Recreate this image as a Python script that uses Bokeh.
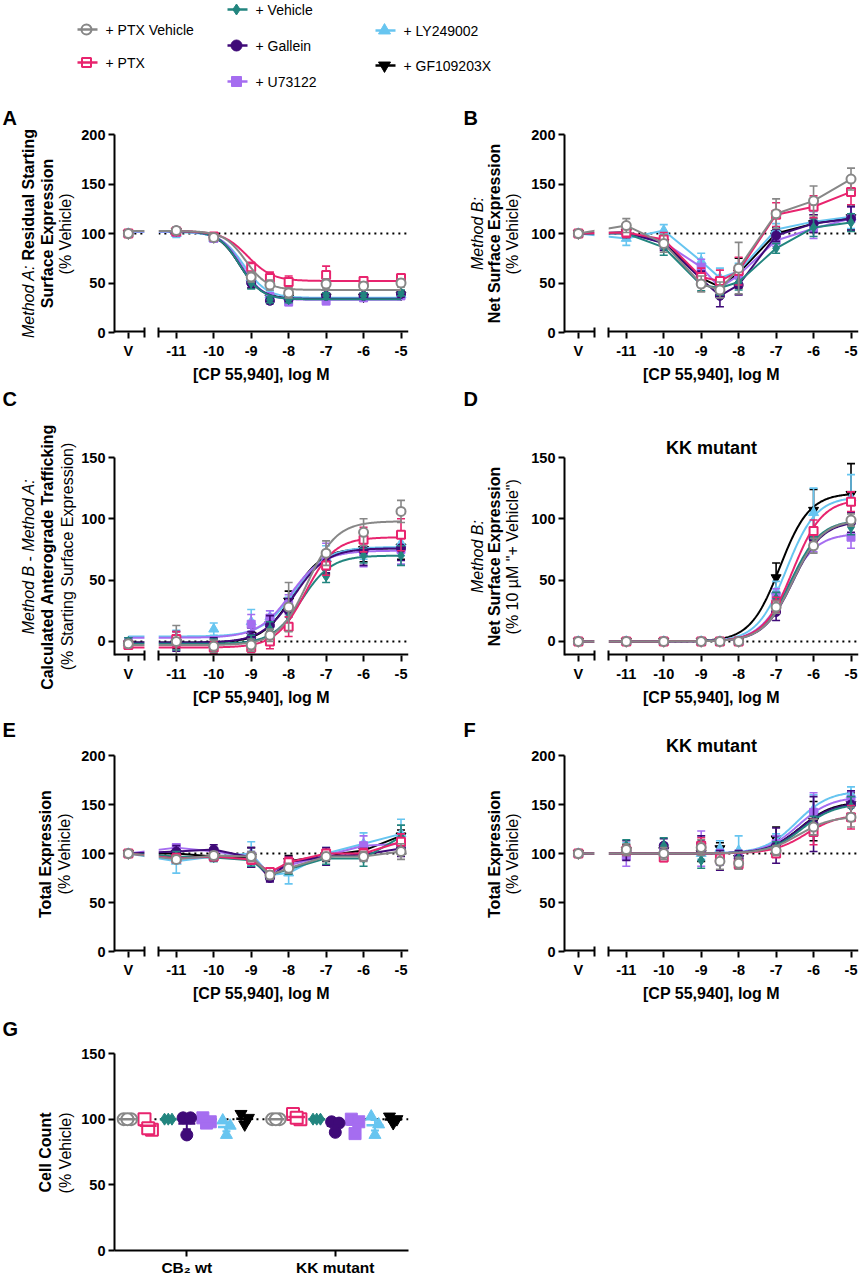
import numpy as np
from bokeh.plotting import figure
from bokeh.layouts import column, row
from bokeh.models import Range1d, FixedTicker
from bokeh.core.properties import value
from bokeh.embed import file_html
from bokeh.resources import INLINE

FONT = "Liberation Sans"

# ---------------- data ----------------
series_names = ["+ PTX Vehicle", "+ PTX", "+ Vehicle", "+ Gallein", "+ U73122", "+ LY249002", "+ GF109203X"]
series_colors = ["#878787", "#E8246E", "#22857F", "#3F0A78", "#A56DF0", "#67C5F0", "#000000"]
series_markers = ["circle", "square", "diamond", "circle", "square", "triangle", "inverted_triangle"]
series_hollow = [True, True, False, False, False, False, False]

log_conc = [-11, -10, -9, -8.5, -8, -7, -6, -5]
x_tick_values = [-11.0, -10.0, -9.0, -8.0, -7.0, -6.0, -5.0]
x_tick_labels = ["V", "-11", "-10", "-9", "-8", "-7", "-6", "-5"]

# values at [V, -11, -10, -9, -8.5, -8, -7, -6, -5], series in legend order
a_values = [
    [100, 103, 96, 56, 48, 40, 49, 47, 50],
    [100, 102, 97, 66, 55, 51, 58, 52, 55],
    [100, 102, 96, 50, 33, 33, 37, 37, 40],
    [100, 103, 96, 50, 32, 34, 37, 37, 39],
    [100, 101, 95, 52, 36, 31, 32, 35, 37],
    [100, 100, 95, 55, 38, 36, 36, 36, 38],
    [100, 102, 96, 50, 35, 35, 36, 36, 38],
]
a_errors = [
    [2, 3, 3, 5, 5, 5, 5, 4, 4],
    [2, 3, 3, 5, 6, 6, 9, 4, 4],
    [2, 2, 3, 6, 3, 3, 3, 3, 3],
    [2, 3, 3, 5, 3, 3, 3, 3, 3],
    [2, 3, 3, 5, 4, 4, 4, 3, 3],
    [2, 4, 3, 6, 4, 4, 3, 3, 3],
    [2, 3, 3, 5, 3, 3, 3, 3, 3],
]
# fit parameters: [start, end, logEC50, hill]
a_fits = [
    [102.5, 43, -9.15, 1.5],
    [102.5, 52, -9.1, 1.3],
    [102.5, 33.5, -9.3, 1.5],
    [102.5, 34, -9.3, 1.5],
    [102, 33, -9.25, 1.5],
    [101.5, 35, -9.2, 1.4],
    [102, 34, -9.3, 1.5],
]

b_values = [
    [100, 108, 90, 49, 43, 65, 120, 133, 155],
    [100, 101, 94, 56, 52, 62, 119, 127, 142],
    [100, 100, 86, 48, 45, 51, 85, 106, 111],
    [100, 101, 90, 54, 37, 48, 98, 110, 115],
    [100, 100, 91, 66, 45, 58, 93, 105, 115],
    [100, 95, 103, 72, 55, 62, 104, 112, 117],
    [100, 101, 91, 55, 46, 60, 100, 110, 116],
]
b_errors = [
    [1, 7, 9, 8, 8, 26, 15, 15, 11],
    [1, 5, 7, 9, 11, 14, 12, 11, 13],
    [1, 4, 8, 6, 7, 8, 5, 9, 9],
    [1, 5, 7, 8, 11, 10, 6, 9, 12],
    [1, 4, 6, 8, 8, 8, 6, 10, 12],
    [1, 7, 6, 8, 10, 8, 6, 10, 12],
    [1, 5, 6, 8, 8, 15, 6, 9, 12],
]

c_values = [
    [-2, 0, -4, -3, 5, 28, 72, 89, 106],
    [-3, 2, -5, -5, 0, 12, 62, 83, 87],
    [0, -2, -3, 0, 10, 20, 53, 70, 70],
    [-1, 0, -2, 3, 13, 25, 64, 74, 76],
    [-2, -1, -3, 14, 19, 30, 70, 73, 75],
    [-1, 3, 10, 16, 20, 28, 68, 77, 80],
    [-2, -1, -3, 5, 14, 33, 63, 75, 77],
]
c_errors = [
    [3, 13, 5, 5, 5, 20, 10, 11, 9],
    [3, 6, 5, 4, 6, 8, 8, 10, 13],
    [3, 5, 5, 5, 6, 8, 5, 6, 8],
    [4, 8, 5, 5, 8, 10, 8, 12, 10],
    [3, 6, 5, 8, 6, 8, 10, 12, 12],
    [4, 6, 5, 10, 5, 8, 10, 10, 10],
    [3, 5, 5, 6, 6, 8, 8, 10, 10],
]
c_fits = [
    [-3, 98, -7.5, 1.1],
    [-5, 85, -7.55, 1.1],
    [-2, 70, -7.65, 1.1],
    [-1, 76, -7.85, 1.0],
    [3, 74, -7.95, 1.0],
    [4, 77, -7.85, 1.0],
    [-1, 76, -7.9, 1.1],
]

d_values = [
    [0, 0, 0, 0, 0, 0, 28, 78, 99],
    [0, 0, 0, 0, 0, 0, 30, 90, 114],
    [0, 0, 0, 0, 0, 0, 35, 85, 93],
    [0, 0, 0, 0, 0, 0, 24, 84, 97],
    [0, 0, 0, 0, 0, 0, 37, 80, 85],
    [0, 0, 0, 0, 0, 0, 41, 105, 117],
    [0, 0, 0, 0, 0, 0, 52, 107, 120],
]
d_errors = [
    [1, 1, 1, 1, 1, 1, 5, 6, 5],
    [1, 1, 1, 1, 1, 1, 6, 9, 8],
    [1, 1, 1, 1, 1, 1, 5, 8, 6],
    [1, 1, 1, 1, 1, 1, 7, 8, 8],
    [1, 1, 1, 1, 1, 1, 6, 7, 9],
    [1, 1, 1, 1, 1, 1, 8, 20, 19],
    [1, 1, 1, 1, 1, 1, 12, 17, 25],
]
d_fits = [
    [0, 99, -6.55, 1.1],
    [0, 116, -6.55, 1.1],
    [0, 99, -6.6, 1.1],
    [0, 98, -6.55, 1.1],
    [0, 88, -6.7, 1.1],
    [0, 118, -6.72, 1.1],
    [0, 121, -6.9, 1.1],
]

e_values = [
    [100, 94, 98, 97, 78, 85, 97, 97, 102],
    [100, 95, 97, 94, 81, 91, 100, 100, 112],
    [100, 97, 96, 93, 78, 84, 95, 95, 117],
    [100, 102, 104, 96, 75, 91, 97, 99, 105],
    [100, 106, 102, 97, 79, 88, 98, 108, 110],
    [100, 92, 97, 100, 78, 80, 100, 110, 120],
    [100, 100, 97, 96, 77, 92, 98, 103, 118],
]
e_errors = [
    [1, 4, 4, 5, 4, 5, 4, 5, 8],
    [1, 5, 4, 5, 3, 5, 4, 5, 8],
    [1, 5, 4, 6, 4, 5, 6, 8, 12],
    [1, 6, 5, 10, 4, 6, 9, 6, 8],
    [1, 4, 4, 5, 4, 5, 5, 10, 10],
    [1, 12, 5, 12, 4, 11, 6, 11, 15],
    [1, 5, 4, 10, 4, 6, 6, 6, 6],
]

f_values = [
    [100, 104, 100, 106, 92, 90, 103, 127, 137],
    [100, 103, 96, 108, 95, 89, 100, 122, 137],
    [100, 108, 108, 93, 95, 95, 106, 128, 148],
    [100, 103, 108, 110, 93, 95, 108, 130, 150],
    [100, 97, 103, 105, 96, 95, 110, 142, 155],
    [100, 105, 103, 100, 105, 103, 112, 145, 160],
    [100, 103, 103, 100, 105, 95, 115, 133, 150],
]
f_errors = [
    [1, 6, 6, 8, 8, 6, 5, 8, 10],
    [1, 5, 4, 8, 6, 5, 3, 13, 12],
    [1, 6, 8, 8, 6, 6, 6, 10, 10],
    [1, 10, 7, 8, 10, 8, 18, 28, 14],
    [1, 10, 6, 18, 8, 8, 8, 20, 8],
    [1, 6, 8, 6, 8, 15, 8, 15, 8],
    [1, 6, 6, 8, 6, 6, 12, 20, 12],
]
f_fits = [
    [100, 138, -6.4, 1.0],
    [100, 140, -6.2, 1.0],
    [100, 151, -6.3, 1.0],
    [100, 152, -6.35, 1.0],
    [100, 158, -6.4, 1.0],
    [100, 164, -6.45, 1.0],
    [100, 153, -6.35, 1.0],
]

g_categories = ["CB\u2082 wt", "KK mutant"]
g_wt = [[100, 100, 100], [100, 92, 93], [100, 100, 100], [101, 101, 88],
        [101, 98, 97], [99, 95, 88], [104, 101, 96]]
g_kk = [[100, 100, 100], [104, 100, 101], [100, 100, 100], [98, 97, 90],
        [100, 98, 89], [102, 96, 88], [102, 100, 97]]

# ---------------- style constants ----------------
V_POS = -12.28
X_START, X_END = -12.65, -4.8
BREAK_L, BREAK_R = -11.85, -11.47
DRAW_ORDER = [6, 5, 4, 3, 2, 1, 0]
MARKER_SIZES = [9, 8, 10, 9, 8, 10, 10]
G_OFFSETS = [-0.4, -0.26, -0.125, 0.0, 0.133, 0.267, 0.39]
G_JITTER = [-0.025, 0.025, 0.0]

REG = {' ': 278, '!': 278, '"': 355, '%': 889, '(': 333, ')': 333, '+': 584, ',': 278, '-': 333,
       '.': 278, ':': 278, 'A': 667, 'B': 667, 'C': 722, 'D': 722, 'E': 667, 'F': 611, 'G': 778,
       'M': 833, 'N': 722, 'P': 667, 'R': 722, 'S': 667, 'T': 611, 'V': 667, 'X': 667,
       'a': 556, 'b': 556, 'c': 500, 'd': 556, 'e': 556, 'f': 278, 'g': 556, 'h': 556, 'i': 222,
       'k': 500, 'l': 222, 'm': 833, 'n': 556, 'o': 556, 'p': 556, 'r': 333, 's': 500, 't': 278,
       'u': 556, 'v': 500, 'w': 722, 'x': 500, 'y': 500}
BOLD = {' ': 278, '"': 474, '%': 889, '(': 333, ')': 333, ',': 278, '-': 333, ':': 333,
        'A': 722, 'B': 722, 'C': 722, 'E': 667, 'M': 833, 'N': 722, 'R': 722, 'S': 667, 'T': 611,
        'a': 556, 'b': 611, 'c': 556, 'd': 611, 'e': 556, 'f': 333, 'g': 611, 'h': 611, 'i': 278,
        'k': 556, 'l': 278, 'm': 889, 'n': 611, 'o': 611, 'p': 611, 'r': 389, 's': 556, 't': 333,
        'u': 611, 'v': 556, 'x': 556, 'y': 556}


def text_width(t, style, size):
    table = BOLD if style == "bold" else REG
    return sum(table.get(ch, 556) for ch in t) * size / 1000.0


def fit_curve(x, start, end, logec50, hill):
    return start + (end - start) / (1.0 + 10.0 ** ((logec50 - x) * hill))


def blank_fig(w, h):
    f = figure(width=w, height=h, x_range=Range1d(0, w), y_range=Range1d(0, h),
               min_border=0, toolbar_location=None, output_backend="svg",
               x_axis_location=None, y_axis_location=None, title=None)
    f.frame_align = False
    f.grid.visible = False
    f.outline_line_color = None
    return f


def label_fig(w, h, letter, letter_x, letter_y, lines, xs, yc):
    f = blank_fig(w, h)
    f.text(x=[letter_x], y=[h - letter_y], text=[letter], text_font=value(FONT),
           text_font_style="bold", text_font_size="20px", text_align="left",
           text_baseline="middle", text_color="black")
    size = 16
    for segs, x in zip(lines, xs):
        widths = [text_width(t, st, size) for t, st in segs]
        pos = yc + sum(widths) / 2.0
        for (t, st), wd in zip(segs, widths):
            lead = len(t) - len(t.lstrip(" "))
            start = pos - lead * text_width(" ", st, size)
            f.text(x=[x], y=[h - start], text=[t.strip()], angle=np.pi / 2,
                   text_font=value(FONT), text_font_style=st, text_font_size="16px",
                   text_align="left", text_baseline="middle", text_color="black")
            pos -= wd
    return f


def style_yaxis(p, ticks):
    ax = p.yaxis[0]
    ax.ticker = FixedTicker(ticks=ticks)
    ax.axis_line_width = 2
    ax.axis_line_color = "black"
    ax.major_tick_line_width = 2
    ax.major_tick_line_color = "black"
    ax.major_tick_in = 0
    ax.major_tick_out = 6
    ax.minor_tick_line_color = None
    ax.major_label_text_font = FONT
    ax.major_label_text_font_style = "bold"
    ax.major_label_text_font_size = "14.5px"
    ax.major_label_text_color = "black"
    ax.major_label_standoff = 3


def break_panel(w, h, mbl, mbr, mbt, mbb, yr, yticks, ref_y, values, errors, fits=None, title=None):
    p = figure(width=w, height=h, x_range=Range1d(X_START, X_END), y_range=Range1d(*yr),
               output_backend="svg", toolbar_location=None,
               min_border_left=mbl, min_border_right=mbr, min_border_top=mbt, min_border_bottom=mbb)
    p.frame_align = False
    p.grid.visible = False
    p.outline_line_color = None
    style_yaxis(p, yticks)
    ax = p.xaxis[0]
    tick_pos = [V_POS] + x_tick_values
    ax.ticker = FixedTicker(ticks=tick_pos, minor_ticks=[BREAK_L, BREAK_R])
    ax.major_label_overrides = {t: l for t, l in zip(tick_pos, x_tick_labels)}
    ax.axis_line_color = None
    ax.major_tick_line_width = 2
    ax.major_tick_line_color = "black"
    ax.major_tick_in = 0
    ax.major_tick_out = 6
    ax.minor_tick_in = 5
    ax.minor_tick_out = 5
    ax.minor_tick_line_width = 2
    ax.minor_tick_line_color = "black"
    ax.major_label_text_font = FONT
    ax.major_label_text_font_style = "bold"
    ax.major_label_text_font_size = "14.5px"
    ax.major_label_text_color = "black"
    ax.major_label_standoff = 4
    ax.axis_label = "[CP 55,940], log M"
    ax.axis_label_text_font = FONT
    ax.axis_label_text_font_style = "bold"
    ax.axis_label_text_font_size = "16px"
    ax.axis_label_text_color = "black"
    ax.axis_label_standoff = 4
    if title:
        p.title.text = title
        p.title.align = "center"
        p.title.text_font = FONT
        p.title.text_font_style = "bold"
        p.title.text_font_size = "18px"
        p.title.text_color = "black"
        p.title.standoff = 0

    p.line([V_POS, X_END], [ref_y, ref_y], line_dash="2 4", line_width=2, line_color="black")
    xs = [V_POS] + log_conc
    for i in DRAW_ORDER:
        c = series_colors[i]
        vals = values[i]
        errs = errors[i]
        lo = [v - e for v, e in zip(vals, errs)]
        hi = [v + e for v, e in zip(vals, errs)]
        p.segment(x0=xs, y0=lo, x1=xs, y1=hi, line_color=c, line_width=1.6)
        p.scatter(x=xs + xs, y=hi + lo, marker="dash", size=8, line_color=c, line_width=1.6)
        if fits is not None:
            xc = np.linspace(V_POS, -5, 300)
            p.line(xc, fit_curve(xc, *fits[i]), line_color=c, line_width=2)
        else:
            p.line(xs, vals, line_color=c, line_width=2)
        p.scatter(x=xs, y=vals, marker=series_markers[i], size=MARKER_SIZES[i],
                  fill_color="white" if series_hollow[i] else c, line_color=c,
                  line_width=2 if series_hollow[i] else 1)
    p.quad(left=[BREAK_L], right=[BREAK_R], bottom=[yr[0]], top=[yr[1]],
           fill_color="white", line_color=None)
    p.segment(x0=[X_START, BREAK_R], x1=[BREAK_L, X_END], y0=[yr[0], yr[0]], y1=[yr[0], yr[0]],
              line_width=4, line_color="black")
    return p


# ---------------- legend ----------------
LEG_W, LEG_H = 860, 96
leg = blank_fig(LEG_W, LEG_H)
legend_slots = [(77, 29), (77, 62), (227, 9), (227, 45), (227, 81), (375, 30), (375, 65)]
legend_sizes = [10, 9, 11, 11, 10, 12, 12]
for i, (lx, ly) in enumerate(legend_slots):
    c = series_colors[i]
    yy = LEG_H - ly
    leg.segment(x0=[lx], y0=[yy], x1=[lx + 20], y1=[yy], line_color=c, line_width=2.5)
    leg.scatter(x=[lx + 9], y=[yy], marker=series_markers[i], size=legend_sizes[i],
                fill_color=None if series_hollow[i] else c, line_color=c,
                line_width=2 if series_hollow[i] else 1)
    leg.text(x=[lx + 28], y=[yy], text=[series_names[i]], text_font=value(FONT),
             text_font_size="14px", text_align="left", text_baseline="middle", text_color="black")

# ---------------- rows ----------------
A_lines = [[("Method A:", "italic"), (" Residual Starting", "bold")],
           [("Surface Expression", "bold")], [("(% Vehicle)", "normal")]]
B_lines = [[("Method B:", "italic")], [("Net Surface Expression", "bold")], [("(% Vehicle)", "normal")]]
C_lines = [[("Method B", "italic"), (" - ", "normal"), ("Method A:", "italic")],
           [("Calculated Anterograde Trafficking", "bold")],
           [("(% Starting Surface Expression)", "normal")]]
D_lines = [[("Method B:", "italic")], [("Net Surface Expression", "bold")],
           [("(% 10 \u00b5M \"+ Vehicle\")", "normal")]]
E_lines = [[("Total Expression", "bold")], [("(% Vehicle)", "normal")]]
G_lines = [[("Cell Count", "bold")], [("(% Vehicle)", "normal")]]

H1, H2, H3, H4 = 292, 324, 298, 268
W_L1, W_P1, W_L2, W_P2 = 78, 350, 100, 332
y200 = [0, 50, 100, 150, 200]
y150 = [0, 50, 100, 150]

row1 = row(
    label_fig(W_L1, H1, "A", 2, 21.5, A_lines, [28, 47, 65], 137),
    break_panel(W_P1, H1, 35, 20, 38, 56, (0, 200), y200, 100, a_values, a_errors, fits=a_fits),
    label_fig(W_L2, H1, "B", 35, 21.5, B_lines, [49, 66, 84], 137),
    break_panel(W_P2, H1, 36, 2, 38, 56, (0, 200), y200, 100, b_values, b_errors),
)
row2 = row(
    label_fig(W_L1, H2, "C", 2, 10.5, C_lines, [28, 47, 67], 168),
    break_panel(W_P1, H2, 35, 20, 69, 57, (-11.5, 150), y150, 0, c_values, c_errors, fits=c_fits),
    label_fig(W_L2, H2, "D", 35, 10.5, D_lines, [49, 66, 84], 168),
    break_panel(W_P2, H2, 36, 2, 69, 57, (-11.5, 150), y150, 0, d_values, d_errors, fits=d_fits,
                title="KK mutant"),
)
row3 = row(
    label_fig(W_L1, H3, "E", 2, 17, E_lines, [45, 64], 141),
    break_panel(W_P1, H3, 35, 20, 43, 59, (0, 200), y200, 100, e_values, e_errors),
    label_fig(W_L2, H3, "F", 35, 17, E_lines, [66, 84], 141),
    break_panel(W_P2, H3, 36, 2, 43, 59, (0, 200), y200, 100, f_values, f_errors, fits=f_fits,
                title="KK mutant"),
)

# panel G
g = figure(width=W_P1, height=H4, x_range=Range1d(-0.487, 1.493), y_range=Range1d(0, 150),
           output_backend="svg", toolbar_location=None,
           min_border_left=33, min_border_right=20, min_border_top=43, min_border_bottom=27)
g.frame_align = False
g.grid.visible = False
g.outline_line_color = None
style_yaxis(g, y150)
gx = g.xaxis[0]
gx.ticker = FixedTicker(ticks=[0, 1])
gx.major_label_overrides = {0: g_categories[0], 1: g_categories[1]}
gx.axis_line_width = 2
gx.axis_line_color = "black"
gx.major_tick_line_width = 2
gx.major_tick_line_color = "black"
gx.major_tick_in = 0
gx.major_tick_out = 6
gx.minor_tick_line_color = None
gx.major_label_text_font = FONT
gx.major_label_text_font_style = "bold"
gx.major_label_text_font_size = "15.5px"
gx.major_label_text_color = "black"
gx.major_label_standoff = 2
g.line([-0.42, 1.493], [100, 100], line_dash="2 4", line_width=2, line_color="black")
for i in DRAW_ORDER:
    c = series_colors[i]
    for cat, reps in ((0, g_wt[i]), (1, g_kk[i])):
        xc = cat + G_OFFSETS[i]
        m = float(np.mean(reps))
        sem = float(np.std(reps, ddof=1) / np.sqrt(len(reps)))
        g.segment(x0=[xc], y0=[m - sem], x1=[xc], y1=[m + sem], line_color=c, line_width=2)
        g.scatter(x=[xc, xc], y=[m - sem, m + sem], marker="dash", size=8, line_color=c, line_width=2)
        g.scatter(x=[xc + j for j in G_JITTER], y=reps, marker=series_markers[i], size=12,
                  fill_color="white" if series_hollow[i] else c, line_color=c,
                  line_width=2 if series_hollow[i] else 1)
        g.segment(x0=[xc - 0.057], y0=[m], x1=[xc + 0.057], y1=[m], line_color=c, line_width=2.5)

row4 = row(label_fig(W_L1, H4, "G", 2, 18.5, G_lines, [45, 65], 142), g)

layout = column(leg, row1, row2, row3, row4)

with open("out.html", "w") as fh:
    fh.write(file_html(layout, INLINE))
